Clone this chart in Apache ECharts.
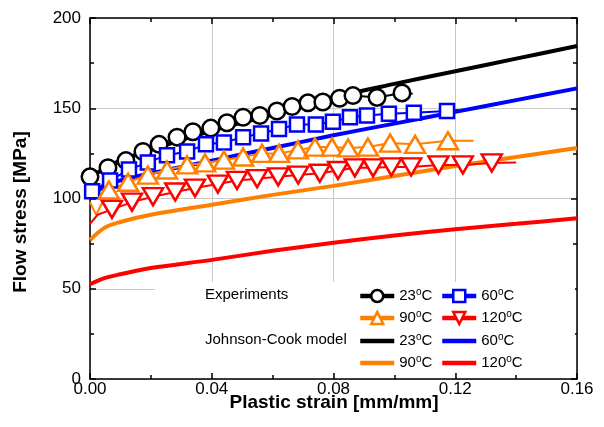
<!DOCTYPE html>
<html><head><meta charset="utf-8">
<script src="https://cdn.jsdelivr.net/npm/echarts@6/dist/echarts.min.js"></script>
<style>html,body{margin:0;padding:0;background:#fff}#c{width:604px;height:427px}</style>
</head><body><div id="c"></div><script>
// ---- data ----
const xTicks = [0, 0.04, 0.08, 0.12, 0.16];
const yTicks = [0, 50, 100, 150, 200];

// Johnson-Cook model curves
const jcStrain = [0, 0.005, 0.01, 0.02, 0.04, 0.06, 0.08, 0.10, 0.12, 0.14, 0.16];
const jc23  = [111, 117, 121, 127, 137.5, 146.5, 156, 163.5, 170.5, 177.5, 184.5];
const jc60  = [101, 107, 110, 114, 121, 128, 135, 141.5, 148, 154.5, 161];
const jc90  = [77, 84, 87, 91, 96.5, 102, 107, 112.5, 118, 123, 128];
const jc120 = [52.5, 56, 58, 61.5, 66, 71, 75.5, 79.5, 83, 86, 89];

// Experiments (marked points)
const exp23Strain = [0.000,0.0059,0.0118,0.0174,0.0227,0.0286,0.0338,0.0397,0.0450,0.0503,0.0558,0.0614,0.0664,0.0716,0.0765,0.0820,0.0864,0.0943,0.1025];
const exp23Stress = [112,117,121,126,130,134,137,139,142,145,146,148.5,151,153,153.5,155.5,157,156,158.5];
const exp23Head = [];
const exp23Tail = [[0.106, 158]];

const exp60Strain = [0.0007,0.0066,0.0128,0.019,0.0253,0.0319,0.0381,0.044,0.0503,0.0562,0.0621,0.068,0.0742,0.0798,0.0854,0.091,0.0982,0.1064,0.1173];
const exp60Stress = [104,110,116,120,124,126,130,131,134,136,138.5,141,141,142.5,145,146,147,147.5,148.5];
const exp60Head = [[0, 103]];
const exp60Tail = [[0.121, 149]];

const exp90Strain = [0.0062,0.0125,0.019,0.0253,0.0319,0.0378,0.044,0.0503,0.0565,0.0621,0.0683,0.0739,0.0795,0.0848,0.0913,0.0986,0.1068,0.1176];
const exp90Stress = [104.7,109,113,115.8,118.6,119.7,121.3,123,125,125,126.9,128.5,128.5,128,128.5,130.7,130,132];
const exp90Head = [[0, 98], [0.002, 91]];
const exp90Tail = [[0.126, 132]];

const exp120Strain = [0.0072,0.0138,0.0207,0.028,0.0345,0.042,0.0483,0.0549,0.0618,0.0684,0.0755,0.0815,0.087,0.093,0.099,0.1055,0.1145,0.1225,0.132];
const exp120Stress = [94,98,101,103.6,105.8,108,110,111,112,113,114,115.5,117,117,117.5,117.5,118.6,118.6,119.7];
const exp120Head = [[0, 86], [0.0025, 91]];
const exp120Tail = [[0.14, 120]];

const legendLabels = ['23', '60', '90', '120'];

// ---- build ----
const FONT = '"Liberation Sans", Arial, sans-serif';
const C = {k:'#000000', b:'#0000ff', o:'#ff8000', r:'#ff0000'};

function jcSeries(name, vals, color) {
  return {
    name, type:'line', smooth:0.35, symbol:'none', z:2,
    data: jcStrain.map((s,i)=>[s, vals[i]]),
    lineStyle:{color, width:4},
    itemStyle:{color},
    emphasis:{disabled:true}
  };
}
function expSeries(name, head, xs, ys, tail, color, symbol, size, rot) {
  const data = [];
  head.forEach(p => data.push({value:p, symbol:'none'}));
  xs.forEach((s,i) => data.push({value:[s, ys[i]]}));
  tail.forEach(p => data.push({value:p, symbol:'none'}));
  return {
    name, type:'line', symbol, symbolSize:size, symbolRotate:rot||0, showAllSymbol:true, z:3,
    data,
    lineStyle:{color, width:2},
    itemStyle:{color:'#ffffff', borderColor:color, borderWidth:2.5},
    emphasis:{disabled:true}
  };
}

const series = [
  jcSeries('jc23', jc23, C.k),
  jcSeries('jc60', jc60, C.b),
  jcSeries('jc90', jc90, C.o),
  jcSeries('jc120', jc120, C.r),
  expSeries('exp23', exp23Head, exp23Strain, exp23Stress, exp23Tail, C.k, 'circle', 16.5),
  expSeries('exp60', exp60Head, exp60Strain, exp60Stress, exp60Tail, C.b, 'rect', 14),
  expSeries('exp90', exp90Head, exp90Strain, exp90Stress, exp90Tail, C.o, 'triangle', [20,17]),
  expSeries('exp120', exp120Head, exp120Strain, exp120Stress, exp120Tail, C.r, 'triangle', [20,17], 180)
];

const labelOf = {exp23:0, exp60:1, exp90:2, exp120:3, jc23:0, jc60:1, jc90:2, jc120:3};
const legendRows = [['exp23','exp60'],['exp90','exp120'],['jc23','jc60'],['jc90','jc120']];
const rowY = [295, 317, 340, 362];
const colX = [358, 440];
const legends = [];
legendRows.forEach((row, r) => row.forEach((nm, c) => {
  const isModel = nm.indexOf('jc') === 0;
  legends.push({
    data:[nm], left:colX[c], top:rowY[r]-8, padding:0, itemWidth:34, itemHeight:15, itemGap:0,
    selectedMode:false, lineStyle:{width:4.5},
    itemStyle: isModel ? {opacity:0} : {borderWidth:2.5},
    formatter: n => '{n|' + legendLabels[labelOf[n]] + '}{s|o}{n|C}',
    textStyle:{fontFamily:FONT, color:'#000', padding:[0,0,0,0],
      rich:{ n:{fontSize:15, fontFamily:FONT, color:'#000', lineHeight:18},
             s:{fontSize:10, fontFamily:FONT, color:'#000', lineHeight:10, verticalAlign:'top'} } }
  });
}));

const axisCommon = {
  type:'value',
  axisLine:{show:true, onZero:false, lineStyle:{color:'#000', width:1.5}},
  axisTick:{show:true, inside:true, length:6, lineStyle:{color:'#000', width:1.5}},
  minorTick:{show:true, splitNumber:2, length:4, lineStyle:{color:'#000', width:1.5}},
};

const option = {
  animation:false,
  backgroundColor:'#fff',
  grid:{left:90, right:27, top:18, bottom:48},
  xAxis:[
    Object.assign({}, axisCommon, {position:'bottom', min:xTicks[0], max:xTicks[xTicks.length-1], interval:xTicks[1]-xTicks[0],
      splitLine:{show:true, lineStyle:{color:'#c8c8c8', width:1}},
      axisLabel:{fontSize:17, fontFamily:FONT, color:'#000', margin:2, formatter:v=>v.toFixed(2)}}),
    Object.assign({}, axisCommon, {position:'top', min:xTicks[0], max:xTicks[xTicks.length-1], interval:xTicks[1]-xTicks[0],
      splitLine:{show:false}, axisLabel:{show:false}})
  ],
  yAxis:[
    Object.assign({}, axisCommon, {position:'left', min:yTicks[0], max:yTicks[yTicks.length-1], interval:yTicks[1]-yTicks[0],
      splitLine:{show:true, lineStyle:{color:'#c8c8c8', width:1}},
      axisLabel:{fontSize:17, fontFamily:FONT, color:'#000', margin:9}}),
    Object.assign({}, axisCommon, {position:'right', min:yTicks[0], max:yTicks[yTicks.length-1], interval:yTicks[1]-yTicks[0],
      splitLine:{show:false}, axisLabel:{show:false}})
  ],
  legend: legends,
  graphic:[
    {type:'rect', z:1, silent:true, shape:{x:155, y:282, width:420, height:91}, style:{fill:'#fff'}},
    {type:'text', z:5, style:{x:205, y:295, text:'Experiments', font:'15px '+FONT, fill:'#000', verticalAlign:'middle'}},
    {type:'text', z:5, style:{x:205, y:340, text:'Johnson-Cook model', font:'15px '+FONT, fill:'#000', verticalAlign:'middle'}},
    {type:'text', z:5, style:{x:334, y:403, text:'Plastic strain [mm/mm]', font:'bold 19px '+FONT, fill:'#000', align:'center', verticalAlign:'middle'}},
    {type:'text', z:5, x:21, y:212, rotation:Math.PI/2, style:{x:0, y:0, text:'Flow stress [MPa]', font:'bold 19px '+FONT, fill:'#000', align:'center', verticalAlign:'middle'}}
  ],
  series
};
const chart = echarts.init(document.getElementById('c'), null, {renderer:'canvas'});
chart.setOption(option);
</script></body></html>
